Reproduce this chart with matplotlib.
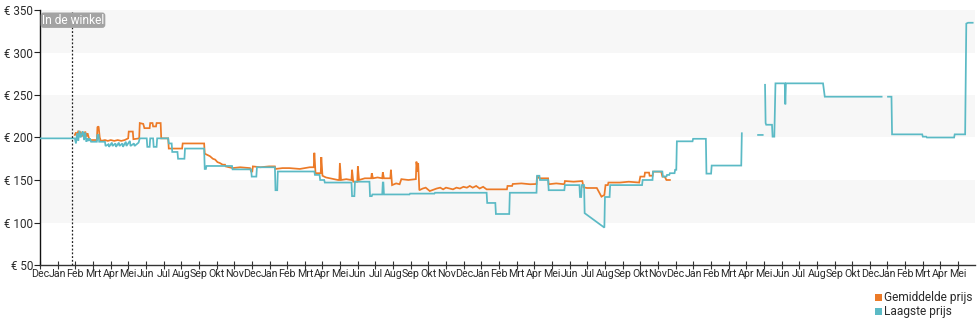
import numpy as np
import matplotlib
matplotlib.use("Agg")
import matplotlib.pyplot as plt
from matplotlib.patches import Rectangle

plt.rcParams['font.family'] = ['Roboto', 'DejaVu Sans']

# ---- data (x = days since first tick, y = price in EUR) ----
month_labels = ["Dec", "Jan", "Feb", "Mrt", "Apr", "Mei", "Jun", "Jul", "Aug", "Sep", "Okt", "Nov",
                "Dec", "Jan", "Feb", "Mrt", "Apr", "Mei", "Jun", "Jul", "Aug", "Sep", "Okt", "Nov",
                "Dec", "Jan", "Feb", "Mrt", "Apr", "Mei", "Jun", "Jul", "Aug", "Sep", "Okt", "Nov",
                "Dec", "Jan", "Feb", "Mrt", "Apr", "Mei", "Jun", "Jul", "Aug", "Sep", "Okt",
                "Dec", "Jan", "Feb", "Mrt", "Apr", "Mei"]
days_per_tick = 30.44
y_ticks = [50, 100, 150, 200, 250, 300, 350]
store_day = 55
store_label = "In de winkel"

low_days = [0, 60, 62, 64, 66, 68, 70, 72, 74, 76, 78, 80, 82, 84, 86, 88, 98, 99, 101, 102, 112, 113, 118, 119,
            124, 125, 130, 131, 136, 137, 142, 143, 148, 149, 155, 156, 162, 163, 170, 172, 184, 185, 189, 190,
            195, 196, 201, 202, 221, 222, 227, 228, 237, 238, 249, 250, 283, 284, 286, 287, 331, 332, 364, 365,
            373, 374, 405, 406, 409, 410, 473, 474, 482, 483, 490, 491, 537, 538, 542, 543, 568, 569, 572, 573,
            590, 591, 592, 593, 637, 638, 680, 681, 770, 771, 785, 786, 809, 810, 856, 857, 861, 862, 876, 877,
            904, 905, 930, 931, 933, 934, 938, 939, 973, 974, 982, 983, 1038, 1039, 1056, 1057, 1073, 1074,
            1080, 1081, 1085, 1086, 1094, 1095, 1097, 1098, 1125, 1126, 1148, 1149, 1157, 1158, 1209, 1210, 1211,
            1238, 1246, 1247,
            1250, 1251, 1252, 1262, 1263, 1266, 1268, 1284, 1285, 1286, 1350, 1353, 1451, 1452,
            1462, 1468, 1469, 1521, 1522, 1528, 1529, 1576, 1577, 1595, 1597, 1600, 1608]
low_price = [199, 199, 193, 205, 196, 208, 200, 204, 207, 197, 206, 195, 199, 196, 199, 195, 195, 203, 203, 195, 195, 190, 192, 189,
             194, 190, 193, 189, 194, 190, 193, 189, 195, 190, 196, 190, 193, 190, 194, 199, 199, 189, 189, 199,
             199, 189, 189, 199, 199, 193, 193, 183, 183, 175, 175, 187, 187, 163, 163, 166.5, 166.5, 162.5, 162.5, 154,
             154, 165, 165, 138, 138, 160, 160, 156, 156, 150, 150, 147, 147, 131, 131, 148, 148, 131, 131, 133,
             133, 147, 147, 133, 133, 134, 134, 135, 135, 123, 123, 110, 110, 135, 135, 155, 155, 150, 150, 138,
             138, 144, 144, 130, 130, 144, 144, 111, 94, 130, 130, 144, 144, 150, 150, 160, 160, 154,
             154, 156, 156, 158, 158, 162, 162, 195.5, 195.5, 198.5, 198.5, 157.5, 157.5, 167, 167, 205, np.nan,
             203, 203, np.nan,
             262, 217, 215, 215, 201, 201, 263.7, 263.7, 239, 263.7, 263.7, 248, 248, np.nan,
             248, 248, 203.7, 203.7, 201, 201, 200, 200, 203.7, 203.7, 334, 335, 335]

avg_days = [60, 62, 64, 66, 68, 70, 72, 74, 76, 78, 80, 82, 84, 86, 98, 99, 101, 103, 105, 112, 117, 122, 128, 134,
            140, 146, 152, 153, 160, 161, 171, 172, 178, 180, 189, 190, 194, 195, 200, 201, 208, 209, 221, 222,
            245, 246, 283, 284, 290, 293, 298, 302, 306, 310, 315, 319, 320, 332, 345, 362, 364, 366, 367, 380,
            395, 405, 406, 418, 430, 448, 465, 472, 473, 475, 484, 485, 487, 493, 500, 507, 514, 516, 517, 519,
            528, 537, 538, 540, 547, 548, 550, 560, 571, 572, 574, 582, 590, 591, 593, 604, 605, 607, 614, 620,
            623, 635, 648, 649, 651, 652, 654, 660, 665, 672, 684, 690, 695, 700, 706, 712, 718, 724, 730, 736,
            741, 746, 752, 758, 764, 770, 805, 806, 814, 815, 830, 845, 856, 857, 861, 876, 877, 890, 904, 905,
            920, 935, 937, 943, 960, 968, 973, 975, 979, 980, 1000, 1015, 1033, 1035, 1042, 1043, 1050, 1051,
            1056, 1057, 1071, 1073, 1077, 1080, 1086]
avg_price = [203, 206, 201, 208, 203, 207, 201, 206, 203, 207, 201, 205, 200, 197, 197, 212, 213, 200, 196, 197, 196, 197, 196, 197,
             196, 197, 199, 207, 207, 198, 199, 217, 216, 211, 211, 217, 217, 213, 213, 217, 217, 199, 199, 187,
             187, 193, 193, 181, 179, 178, 175, 174, 171, 170, 168, 168, 166, 164, 165, 164, 160, 160, 166, 165,
             166, 166, 163, 164, 164, 163, 165, 165, 182, 158, 158, 177, 155, 153, 152, 151, 150, 150, 170, 150,
             151, 150, 162, 148, 148, 166, 150, 152, 152, 158, 152, 153, 152, 159, 152, 152, 162, 144, 146, 145,
             151, 150, 151, 171.6, 160, 170, 138, 140, 141, 137, 140, 141, 139, 141, 140, 139, 141, 140, 142, 141,
             143, 141, 143, 140, 142, 139, 139, 143, 143, 145.3, 146, 145, 145.3, 154.7, 152, 152, 145, 146, 145, 148.8,
             148, 148.8, 141.4, 140.6, 140.6, 130.4, 132.4, 144, 144, 147, 147, 148, 147, 154, 154, 158.7, 158.7, 155,
             155, 159.8, 159.8, 154, 154, 150, 150]

# ---- figure ----
W, H, DPI = 980, 325, 100
fig = plt.figure(figsize=(W / DPI, H / DPI), dpi=DPI)
ax = fig.add_axes([40 / W, 60 / H, 935 / W, 255 / H])

orange = "#ec7a27"
teal = "#5bbac5"
txt = "#2a2a2a"

for lo, hi in [(100, 150), (200, 250), (300, 350)]:
    ax.axhspan(lo, hi, color="#f7f7f7", lw=0, zorder=0)

ax.plot(avg_days, avg_price, color=orange, lw=1.25, zorder=3, solid_joinstyle="miter")
ax.plot(low_days, low_price, color=teal, lw=1.25, zorder=4, solid_joinstyle="miter")

ax.axvline(store_day, color="#222222", lw=0.9, ls=(0, (1.5, 1.5)), zorder=5)
ax.text(0.002, 338, store_label, transform=ax.get_yaxis_transform(), ha="left", va="center",
        fontsize=8.6, color="white", zorder=6,
        bbox=dict(boxstyle="round,pad=0.1,rounding_size=0.25", fc="#a3a3a3", ec="none"))

ax.set_xlim(0, 1612)
ax.set_ylim(50, 350)

ticks = [i * days_per_tick for i in range(len(month_labels))]
ax.set_xticks(ticks)
ax.set_xticklabels(month_labels, fontsize=7.7, color=txt)
ax.set_yticks(y_ticks)
ax.set_yticklabels([f"€ {v}" for v in y_ticks], fontsize=8.4, color=txt)

ax.tick_params(axis="x", direction="inout", length=6, width=0.8, color="#333333", pad=0)
ax.tick_params(axis="y", direction="out", length=4, width=0.8, color="#222222", pad=1)

for s in ["top", "right"]:
    ax.spines[s].set_visible(False)
ax.spines["left"].set_color("#111111")
ax.spines["left"].set_linewidth(1.0)
ax.spines["bottom"].set_color("#333333")
ax.spines["bottom"].set_linewidth(1.0)
ax.set_facecolor("white")

# legend
leg = [("Gemiddelde prijs", orange, 297), ("Laagste prijs", teal, 311)]
for label, col, yp in leg:
    fig.add_artist(Rectangle((875 / W, 1 - (yp + 3.5) / H), 7 / W, 7 / H, transform=fig.transFigure,
                             fc=col, ec="none"))
    fig.text(884 / W, 1 - yp / H, label, fontsize=8.6, color=txt, ha="left", va="center")

fig.savefig("out.png", dpi=DPI)
